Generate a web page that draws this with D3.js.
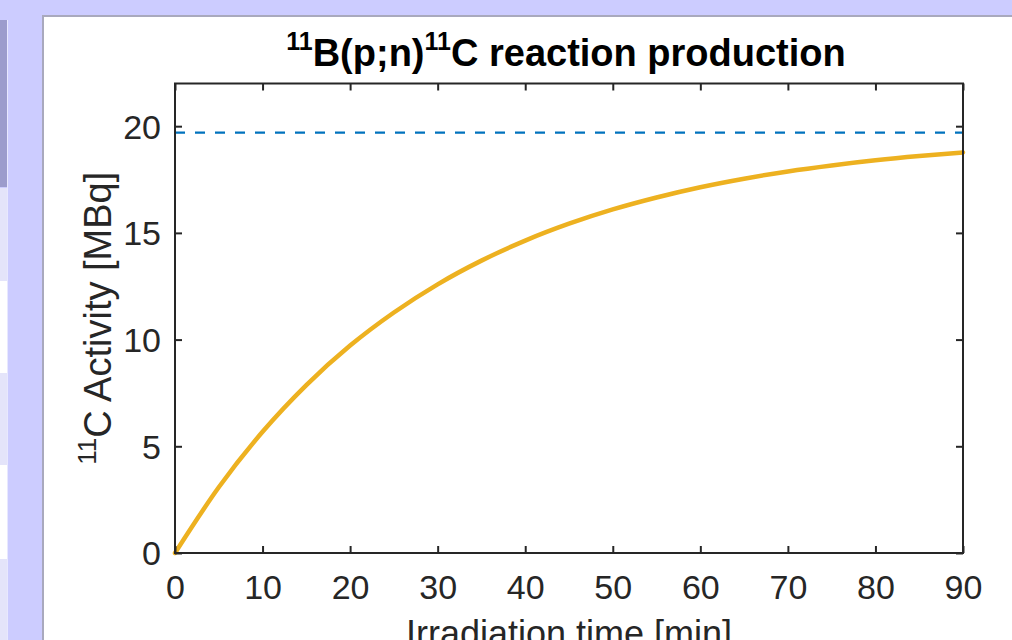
<!DOCTYPE html>
<html>
<head>
<meta charset="utf-8">
<script src="https://cdn.jsdelivr.net/npm/d3@7"></script>
<style>
  html, body { margin: 0; padding: 0; background: #ccccff; overflow: hidden; }
  svg { display: block; }
  text { font-family: "Liberation Sans", Arial, sans-serif; }
</style>
</head>
<body>
<svg id="chart" width="1012" height="640"></svg>
<script>
// ---- data ----
const timeMin = [0, 5, 10, 15, 20, 25, 30, 35, 40, 45, 50, 55, 60, 65, 70, 75, 80, 85, 90];
const activityMBq = [0, 3.08, 5.68, 7.87, 9.72, 11.27, 12.59, 13.70, 14.64, 15.43, 16.10, 16.66, 17.14, 17.54, 17.88, 18.16, 18.40, 18.60, 18.77];
const saturationMBq = [19.7];
const xTicks = [0, 10, 20, 30, 40, 50, 60, 70, 80, 90];
const yTicks = [0, 5, 10, 15, 20];
const xDomain = [0, 90];
const yDomain = [0, 22];

const svg = d3.select("#chart");

// ---- page decoration (screenshot frame) ----
svg.append("rect").attr("x", 0).attr("y", 0).attr("width", 1012).attr("height", 640).attr("fill", "#ccccff");
const strip = [
  [20, 187, "#9c9ccc"], [188, 281, "#e4e4fa"], [281, 373, "#ffffff"],
  [373, 465, "#e4e4fa"], [465, 559, "#ffffff"], [559, 640, "#e4e4fa"]
];
strip.forEach(s => svg.append("rect").attr("x", 0).attr("y", s[0]).attr("width", 7).attr("height", s[1] - s[0]).attr("fill", s[2]));
svg.append("rect").attr("x", 7).attr("y", 20).attr("width", 1).attr("height", 620).attr("fill", "#e8e8ff");
svg.append("rect").attr("x", 42).attr("y", 15).attr("width", 970).attr("height", 625).attr("fill", "#a9a9bd");
svg.append("rect").attr("x", 44).attr("y", 17).attr("width", 968).attr("height", 623).attr("fill", "#ffffff");

// ---- axes ----
const pLeft = 175, pRight = 963, pTop = 83.5, pBottom = 553;
const x = d3.scaleLinear().domain(xDomain).range([pLeft, pRight]);
const y = d3.scaleLinear().domain(yDomain).range([pBottom, pTop]);
const axisColor = "#262626";
const fs = 34;

const g = svg.append("g");

const line = d3.line().x((d, i) => x(timeMin[i])).y(d => y(d)).curve(d3.curveMonotoneX);
g.append("line")
  .attr("x1", x(xDomain[0])).attr("x2", x(xDomain[1]))
  .attr("y1", y(saturationMBq[0])).attr("y2", y(saturationMBq[0]))
  .attr("stroke", "#0072bd").attr("stroke-width", 2.2).attr("stroke-dasharray", "10,10");
g.append("path").datum(activityMBq)
  .attr("d", line).attr("fill", "none")
  .attr("stroke", "#edb120").attr("stroke-width", 4.5).attr("stroke-linecap", "round");

g.append("rect").attr("x", pLeft).attr("y", pTop).attr("width", pRight - pLeft).attr("height", pBottom - pTop)
  .attr("fill", "none").attr("stroke", axisColor).attr("stroke-width", 2);

const tickLen = 7;
const gx = g.append("g").attr("transform", `translate(0,${pBottom})`)
  .call(d3.axisBottom(x).tickValues(xTicks).tickSizeInner(-tickLen).tickSizeOuter(0));
const gxt = g.append("g").attr("transform", `translate(0,${pTop})`)
  .call(d3.axisTop(x).tickValues(xTicks).tickSizeInner(-tickLen).tickSizeOuter(0).tickFormat(""));
const gy = g.append("g").attr("transform", `translate(${pLeft},0)`)
  .call(d3.axisLeft(y).tickValues(yTicks).tickSizeInner(-tickLen).tickSizeOuter(0));
const gyr = g.append("g").attr("transform", `translate(${pRight},0)`)
  .call(d3.axisRight(y).tickValues(yTicks).tickSizeInner(-tickLen).tickSizeOuter(0).tickFormat(""));

[gx, gxt, gy, gyr].forEach(a => {
  a.select(".domain").remove();
  a.selectAll(".tick line").attr("stroke", axisColor).attr("stroke-width", 2);
  a.selectAll(".tick text").attr("fill", axisColor).attr("font-size", fs).attr("font-family", "Liberation Sans, Arial, sans-serif");
});
gx.selectAll(".tick text").attr("dy", null).attr("y", 46);
gy.selectAll(".tick text").attr("x", -14).attr("dy", "0.35em");

// ---- title ----
const title = svg.append("text").attr("x", 566).attr("y", 66)
  .attr("text-anchor", "middle").attr("font-weight", "bold").attr("font-size", 38).attr("fill", "#000");
title.append("tspan").attr("font-size", 25).attr("dy", -16).text("11");
title.append("tspan").attr("dy", 16).text("B(p;n)");
title.append("tspan").attr("font-size", 25).attr("dy", -16).text("11");
title.append("tspan").attr("dy", 16).text("C reaction production");

// ---- y label ----
const ylab = svg.append("text").attr("transform", `translate(111,${(pTop + pBottom) / 2}) rotate(-90)`)
  .attr("text-anchor", "middle").attr("font-size", 38).attr("fill", axisColor);
ylab.append("tspan").attr("font-size", 26).attr("dy", -15).text("11");
ylab.append("tspan").attr("dy", 15).text("C Activity [MBq]");

// ---- x label ----
svg.append("text").attr("x", (pLeft + pRight) / 2).attr("y", 646)
  .attr("text-anchor", "middle").attr("font-size", 36).attr("fill", axisColor)
  .text("Irradiation time [min]");
</script>
</body>
</html>
